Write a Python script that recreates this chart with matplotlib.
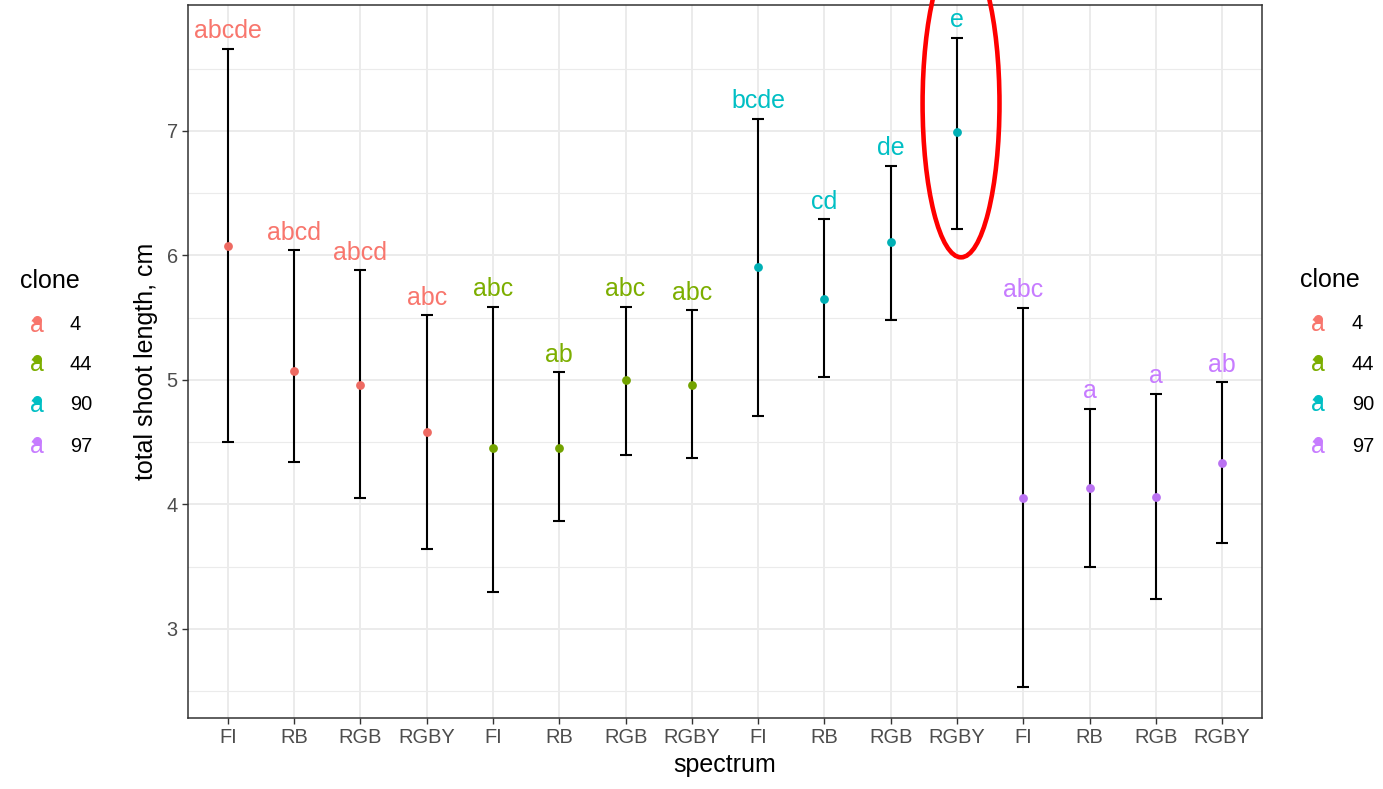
import numpy as np
import matplotlib.pyplot as plt
from matplotlib.patches import Ellipse
from matplotlib.lines import Line2D

plt.rcParams['font.family'] = ['Liberation Sans', 'DejaVu Sans']

# data
spectra = ['FI', 'RB', 'RGB', 'RGBY']
clones = ['4', '44', '90', '97']
colors = ['#F8766D', '#7CAE00', '#00BFC4', '#C77CFF']
point_colors = ['#EE6A62', '#73A300', '#00B0B5', '#BA72F2']

means = [[6.08, 5.07, 4.96, 4.58],
         [4.45, 4.45, 5.00, 4.96],
         [5.91, 5.65, 6.11, 6.99],
         [4.05, 4.13, 4.06, 4.33]]
lower = [[4.50, 4.34, 4.05, 3.64],
         [3.30, 3.87, 4.40, 4.37],
         [4.71, 5.02, 5.48, 6.21],
         [2.53, 3.50, 3.24, 3.69]]
upper = [[7.66, 6.04, 5.88, 5.52],
         [5.59, 5.06, 5.59, 5.56],
         [7.10, 6.29, 6.72, 7.75],
         [5.58, 4.77, 4.89, 4.98]]
letters = [['abcde', 'abcd', 'abcd', 'abc'],
           ['abc', 'ab', 'abc', 'abc'],
           ['bcde', 'cd', 'de', 'e'],
           ['abc', 'a', 'a', 'ab']]

fig = plt.figure(figsize=(13.83, 7.89), dpi=100)
ax = fig.add_axes([0.136, 0.09, 0.7765, 0.9037])

xlabels = []
for c in range(4):
    for s in range(4):
        x = c * 4 + s
        m = means[c][s]
        lo = lower[c][s]
        hi = upper[c][s]
        ax.errorbar(x, m, yerr=[[m - lo], [hi - m]], fmt='none', ecolor='black',
                    elinewidth=1.5, capsize=4.5, capthick=1.5, zorder=3)
        ax.scatter(x, m, s=40, color=point_colors[c], zorder=4, linewidths=0)
        ax.annotate(letters[c][s], (x, hi), xytext=(0, 12.5), textcoords='offset points',
                    ha='center', va='center', fontsize=18, color=colors[c])
        xlabels.append(spectra[s])

ax.set_xlim(-0.6, 15.6)
ax.set_ylim(2.285, 8.012)
ax.set_xticks(range(16))
ax.set_xticklabels(xlabels)
ax.set_yticks([3, 4, 5, 6, 7])
ax.set_yticks(np.arange(2.5, 8.0, 1.0), minor=True)
ax.tick_params(axis='both', which='major', labelsize=14.4, labelcolor='#4D4D4D',
               color='#333333', length=4, width=1)
ax.tick_params(axis='y', which='minor', length=0)
ax.grid(True, which='major', color='#EBEBEB', linewidth=1.4)
ax.grid(True, which='minor', axis='y', color='#EBEBEB', linewidth=0.8)
ax.set_axisbelow(True)
for sp in ax.spines.values():
    sp.set_color('#333333')
    sp.set_linewidth(1.1)
ax.set_xlabel('spectrum', fontsize=18, labelpad=4)
ax.set_ylabel('total shoot length, cm', fontsize=18, labelpad=6)

# highlight ellipse
ell = Ellipse((11.06, 7.22), width=1.16, height=2.47, fill=False, edgecolor='red',
              linewidth=3.3, clip_on=False, zorder=5)
ax.add_patch(ell)

# legends on both sides
W, H = 1383, 789
def legend(x_title, y_title, x_key, x_lab, ys):
    fig.text(x_title / W, 1 - y_title / H, 'clone', fontsize=18, ha='left', va='center')
    for i, y in enumerate(ys):
        fig.text(x_key / W, 1 - y / H, 'a', fontsize=18, color=colors[i], ha='center', va='center')
        fig.add_artist(Line2D([x_key / W], [1 - (y - 5) / H], marker='o', markersize=5.5,
                              color=colors[i], linestyle='none'))
        fig.text(x_lab / W, 1 - y / H, clones[i], fontsize=14.4, ha='left', va='center')

legend(20, 281, 37, 70, [325, 364, 405, 446])
legend(1300, 280, 1318, 1352, [324, 364, 404, 446])

fig.savefig('out.png', dpi=100)
